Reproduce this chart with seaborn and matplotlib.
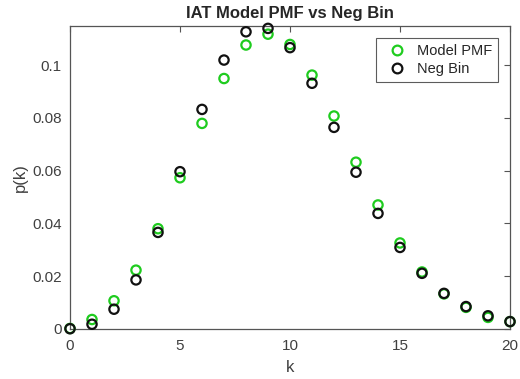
import numpy as np
import pandas as pd
import matplotlib
matplotlib.use('Agg')
import matplotlib.pyplot as plt
import seaborn as sns

# данные
k = list(range(21))
model_pmf = [0.0002, 0.0036, 0.0107, 0.0223, 0.0380, 0.0573, 0.0779, 0.0949, 0.1076, 0.1117,
             0.1078, 0.0962, 0.0807, 0.0632, 0.0470, 0.0326, 0.0216, 0.0133, 0.0082, 0.0044, 0.0028]
neg_bin = [0.0001, 0.0018, 0.0075, 0.0186, 0.0366, 0.0596, 0.0832, 0.1019, 0.1126, 0.1139,
           0.1066, 0.0931, 0.0764, 0.0594, 0.0438, 0.0309, 0.0211, 0.0135, 0.0085, 0.0050, 0.0028]
series_names = ['Model PMF', 'Neg Bin']
series_colors = ['#1fcc1f', '#111111']

sns.set_style('white')
plt.rcParams['font.family'] = ['Liberation Sans', 'DejaVu Sans']

fig = plt.figure(figsize=(5.2, 3.79), dpi=100)
ax = fig.add_axes([70 / 520, 1 - 329 / 379, 440 / 520, 303 / 379])

# каждая серия отдельно — пустые кружки
for vals, col in zip([model_pmf, neg_bin], series_colors):
    sns.scatterplot(x=k, y=vals, marker='o', s=45, facecolor='none', edgecolor=col,
                    linewidth=1.6, ax=ax, clip_on=False, zorder=3)

ax.set_xlim(0, 20)
ax.set_ylim(0, 0.1148)
ax.set_xticks([0, 5, 10, 15, 20])
ax.set_yticks([0, 0.02, 0.04, 0.06, 0.08, 0.1])
ax.set_yticklabels(['0', '0.02', '0.04', '0.06', '0.08', '0.1'])
ax.tick_params(direction='in', length=4, width=0.8, colors='#555555', labelcolor='#404040',
               labelsize=11, top=True, right=True)
ax.tick_params(axis='x', pad=7)
ax.tick_params(axis='y', pad=6)
for sp in ax.spines.values():
    sp.set_visible(True)
    sp.set_color('#555555')
    sp.set_linewidth(0.9)

ax.set_xlabel('k', fontsize=12, color='#404040', labelpad=5)
ax.set_ylabel('p(k)', fontsize=12, color='#404040', labelpad=3)
ax.set_title('IAT Model PMF vs Neg Bin', fontsize=12, fontweight='bold', pad=6)

handles = [plt.Line2D([], [], ls='none', marker='o', markersize=7, markerfacecolor='none',
                      markeredgecolor=c, markeredgewidth=1.6) for c in series_colors]
leg = ax.legend(handles, series_names, loc='upper right', fontsize=10.5, frameon=True,
                fancybox=False, edgecolor='#333333', bbox_to_anchor=(0.973, 0.96),
                borderaxespad=0.0, handletextpad=0.4, borderpad=0.4, labelspacing=0.3)
leg.get_frame().set_linewidth(0.8)

fig.savefig('out.png', dpi=100)
